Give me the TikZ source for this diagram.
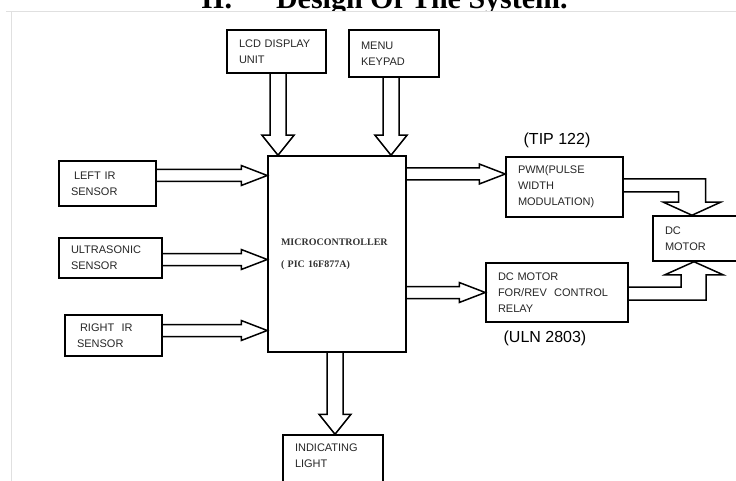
\documentclass[tikz,border=0pt]{standalone}
\usepackage{fontspec}
\setmainfont{Liberation Serif}
\newfontfamily\boxfont{Liberation Sans}
\usetikzlibrary{calc}

\newcommand{\harrow}[3]{%
  \draw[fat] let \p1=(#1), \p2=(#2), \p3=(#3) in
    (\x1,\y3+6pt) -- (\x2-26pt,\y3+6pt) -- (\x2-26pt,\y3+10pt) -- (\x2,\y3)
    -- (\x2-26pt,\y3-10pt) -- (\x2-26pt,\y3-6pt) -- (\x1,\y3-6pt);}
\newcommand{\varrow}[3]{%
  \draw[fat] let \p1=(#1), \p2=(#2), \p3=(#3) in
    (\x3-8pt,\y1) -- (\x3-8pt,\y2+20pt) -- (\x3-16pt,\y2+20pt) -- (\x3,\y2)
    -- (\x3+16pt,\y2+20pt) -- (\x3+8pt,\y2+20pt) -- (\x3+8pt,\y1);}

\begin{document}
\begin{tikzpicture}[x=1pt,y=-1pt,
    blk/.style={draw, line width=1.5pt, align=left, inner xsep=12pt, inner ysep=0pt,
      font=\boxfont\fontsize{11}{16}\selectfont, text=black!85},
    fat/.style={line width=1.5pt, line join=miter},
    note/.style={font=\boxfont\fontsize{16}{16}\selectfont, inner sep=0pt}]
    \useasboundingbox (0,0) rectangle (736,481);
    \clip (0,0) rectangle (736,481);

    \begin{scope}
        \clip (0,0) rectangle (736,11);
        \node[anchor=base west, inner sep=0pt, font=\bfseries\fontsize{30}{30}\selectfont] (title)
            at (201,9) {II.\hspace{44pt}Design Of The System.};
    \end{scope}
    \draw[black!12, line width=0.8pt] (6,11) -- (736,11) (11,11) -- (11,481);

    \node[blk, text width=75pt, minimum height=43pt] (lcd) at (276.5,51.5) {LCD DISPLAY\\UNIT};
    \node[blk, text width=66pt, minimum height=47pt] (menu) at (394,53.5) {MENU\\KEYPAD};
    \node[blk, text width=73pt, minimum height=45pt] (lir) at (107.5,183.5) {\hspace{3pt}LEFT IR\\SENSOR};
    \node[blk, text width=79pt, minimum height=40pt] (us) at (110.5,258) {ULTRASONIC\\SENSOR};
    \node[blk, text width=73pt, minimum height=41pt] (rir) at (113.5,335.5) {\hspace{3pt}RIGHT\ \ IR\\SENSOR};
    \node[draw, line width=1.5pt, align=left, inner xsep=13pt, text width=112pt, minimum height=196pt,
        font=\bfseries\fontsize{10}{22}\selectfont, text=black!80] (mcu) at (337,254)
        {MICROCONTROLLER\\( PIC 16F877A)};
    \node[blk, text width=93pt, minimum height=60pt] (pwm) at (564.5,187) {PWM(PULSE\\WIDTH\\MODULATION)};
    \node[blk, text width=118pt, minimum height=59pt] (relay) at (557,292.5) {DC MOTOR\\FOR/REV\ \ CONTROL\\RELAY};
    \node[blk, text width=64pt, minimum height=45pt] (motor) at (697,238.5) {DC\\MOTOR};
    \node[blk, text width=76pt, minimum height=58pt] (ind) at (333,464) {INDICATING\\LIGHT\\\mbox{}};
    \node[note] (tip) at (557,140) {(TIP 122)};
    \node[note] (uln) at (545,338) {(ULN 2803)};

    \varrow{lcd.south}{mcu.north}{[xshift=1.5pt]lcd.south}
    \varrow{menu.south}{mcu.north}{[xshift=-3pt]menu.south}
    \varrow{mcu.south}{ind.north}{[xshift=-2pt]mcu.south}
    \harrow{lir.east}{mcu.west}{[yshift=8pt]lir.east}
    \harrow{us.east}{mcu.west}{[yshift=-1.5pt]us.east}
    \harrow{rir.east}{mcu.west}{[yshift=5pt]rir.east}
    \harrow{mcu.east}{pwm.west}{[yshift=13pt]pwm.west}
    \harrow{mcu.east}{relay.west}{relay.west}

    \draw[fat] let \p1=(pwm.east), \p2=([xshift=-5pt]motor.north) in
        (\x1,\y1+8pt) -- (\x2+13.5pt,\y1+8pt) -- (\x2+13.5pt,\y2+13pt) -- (\x2+28.5pt,\y2+13pt)
        -- (\x2,\y2) -- (\x2-28.5pt,\y2+13pt) -- (\x2-13.5pt,\y2+13pt) -- (\x2-13.5pt,\y1-5pt) -- (\x1,\y1-5pt);
    \draw[fat] let \p1=(relay.east), \p2=([xshift=-3pt]motor.south) in
        (\x1,\y1+5.5pt) -- (\x2-13pt,\y1+5.5pt) -- (\x2-13pt,\y2-13pt) -- (\x2-29pt,\y2-13pt)
        -- (\x2,\y2) -- (\x2+29pt,\y2-13pt) -- (\x2+12pt,\y2-13pt) -- (\x2+12pt,\y1-7.5pt) -- (\x1,\y1-7.5pt);
\end{tikzpicture}
\end{document}
